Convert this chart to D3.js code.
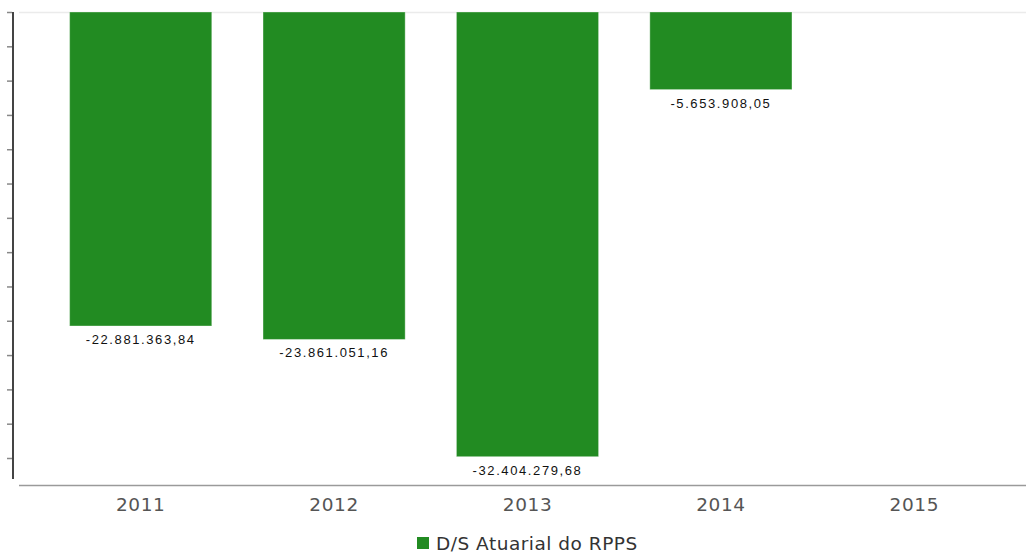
<!DOCTYPE html>
<html>
<head>
<meta charset="utf-8">
<script src="https://cdn.jsdelivr.net/npm/d3@7"></script>
<style>
    body { margin: 0; background: #fff; }
</style>
</head>
<body>
<div class="canvas"></div>
<script>
const years = ['2011', '2012', '2013', '2014', '2015']
const values = [-22881363.84, -23861051.16, -32404279.68, -5653908.05, null]
const yTicks = [0, -2500000, -5000000, -7500000, -10000000, -12500000, -15000000,
    -17500000, -20000000, -22500000, -25000000, -27500000, -30000000, -32500000]
const seriesName = 'D/S Atuarial do RPPS'

const data = years.map((y, i) => ({ name: y, value: values[i] }))

const width = 1026
const height = 556

const svg = d3.select('.canvas').append('svg').attr('width', width).attr('height', height)

const margins = {
    top: 12,
    left: 12
}

const gHeight = 446

const graph = svg.append('g').attr('transform', `translate(${margins.left}, ${margins.top})`)

// brazilian number format
const br = d3.formatLocale({ decimal: ',', thousands: '.', grouping: [3], currency: ['R$', ''], minus: '-' })
const fmt = br.format(',.2f')

// scales
const x = d3.scaleBand()
    .domain(years)
    .range([32, 999])
    .paddingInner(0.265)
    .paddingOuter(0.1325)

const y = d3.scaleLinear()
    .domain([d3.min(yTicks), 0])
    .range([gHeight, 0])

// top grid line
graph.append('line')
    .attr('x1', 7).attr('x2', width)
    .attr('y1', y(0) + 0.5).attr('y2', y(0) + 0.5)
    .attr('stroke', '#ebebeb')
    .attr('stroke-width', 1.5)

// bars
graph.selectAll('rect.bar')
    .data(data.filter(d => d.value != null))
    .enter()
    .append('rect')
    .attr('class', 'bar')
    .attr('x', d => x(d.name))
    .attr('y', y(0))
    .attr('width', x.bandwidth())
    .attr('height', d => y(d.value) - y(0))
    .attr('fill', '#228b22')
    .attr('stroke', 'rgba(255,255,255,0.35)')
    .attr('stroke-width', 1)

// value labels
graph.selectAll('text.val')
    .data(data.filter(d => d.value != null))
    .enter()
    .append('text')
    .attr('class', 'val')
    .attr('x', d => x(d.name) + x.bandwidth() / 2)
    .attr('y', d => y(d.value) + 18)
    .attr('text-anchor', 'middle')
    .attr('font-family', 'Liberation Sans, Arial, sans-serif')
    .attr('font-size', 13)
    .attr('letter-spacing', 1.6)
    .attr('fill', '#111')
    .text(d => fmt(d.value))

// y axis
const yAxis = d3.axisLeft(y).tickValues(yTicks).tickSize(5).tickSizeOuter(0).tickFormat('')
const yAxisGroup = graph.append('g').call(yAxis)
yAxisGroup.select('.domain')
    .attr('d', `M1,0V${467}`)
    .attr('stroke', '#444')
    .attr('stroke-width', 2)
yAxisGroup.selectAll('.tick line').attr('stroke', '#888').attr('stroke-width', 1.5)

// x axis
graph.append('line')
    .attr('x1', 7).attr('x2', width)
    .attr('y1', 473.5).attr('y2', 473.5)
    .attr('stroke', '#9a9a9a')
    .attr('stroke-width', 1.5)

const xAxis = d3.axisBottom(x).tickSize(0).tickPadding(0)
const xAxisGroup = graph.append('g').attr('transform', `translate(0, 473)`).call(xAxis)
xAxisGroup.select('.domain').remove()
xAxisGroup.selectAll('text')
    .attr('dy', null)
    .attr('y', 26)
    .attr('font-family', 'DejaVu Sans, Verdana, sans-serif')
    .attr('font-size', 18.5)
    .attr('letter-spacing', 0.6)
    .attr('fill', '#555')

// legend
const legend = svg.append('g').attr('transform', 'translate(417, 537)')
legend.append('rect')
    .attr('width', 12).attr('height', 12)
    .attr('fill', '#228b22')
legend.append('text')
    .attr('x', 19).attr('y', 13)
    .attr('font-family', 'DejaVu Sans, Verdana, sans-serif')
    .attr('font-size', 18.5)
    .attr('letter-spacing', 0.5)
    .attr('fill', '#333')
    .text(seriesName)
</script>
</body>
</html>
